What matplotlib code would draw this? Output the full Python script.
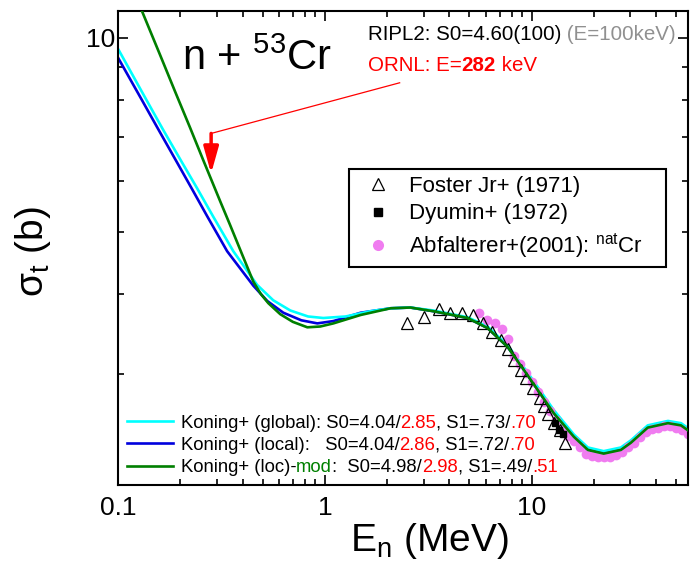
import numpy as np
import matplotlib
matplotlib.use("Agg")
import matplotlib.pyplot as plt
from matplotlib.lines import Line2D
from matplotlib.ticker import LogLocator, NullFormatter, FuncFormatter

plt.rcParams['font.family'] = ['Liberation Sans', 'DejaVu Sans']
plt.rcParams['mathtext.fontset'] = 'custom'
plt.rcParams['mathtext.rm'] = 'Liberation Sans'
plt.rcParams['mathtext.it'] = 'Liberation Sans:italic'
plt.rcParams['mathtext.bf'] = 'Liberation Sans:bold'

# Koning+ (global)
E_global = [0.100, 0.135, 0.165, 0.204, 0.241, 0.288, 0.361, 0.471, 0.563, 0.681, 0.83, 0.983, 1.26, 1.66,
            2.08, 2.59, 3.35, 4.90, 6.12, 7.65, 9.56, 12.8, 16.0, 18.7, 22.3, 27.0, 30.2, 36.4, 45.6, 52.7, 57.6]
sig_global = [9.61, 8.08, 7.20, 6.40, 5.84, 5.28, 4.66, 4.13, 3.91, 3.77, 3.69, 3.67, 3.69, 3.76,
              3.80, 3.81, 3.77, 3.68, 3.56, 3.33, 3.02, 2.64, 2.42, 2.31, 2.28, 2.31, 2.37, 2.50, 2.54, 2.52, 2.47]

# Koning+ (local)
E_local = [0.100, 0.128, 0.158, 0.193, 0.228, 0.270, 0.337, 0.451, 0.527, 0.630, 0.77, 0.920, 1.10, 1.49,
           2.08, 2.59, 3.35, 4.90, 6.12, 7.65, 9.56, 12.8, 16.0, 18.7, 22.3, 27.0, 30.2, 36.4, 45.6, 52.7, 57.6]
sig_local = [9.31, 8.09, 7.17, 6.40, 5.82, 5.28, 4.66, 4.12, 3.90, 3.74, 3.64, 3.60, 3.63, 3.74,
             3.80, 3.81, 3.76, 3.67, 3.54, 3.31, 2.99, 2.61, 2.40, 2.29, 2.26, 2.29, 2.35, 2.48, 2.52, 2.50, 2.45]

# Koning+ (loc)-mod
E_mod = [0.100, 0.131, 0.160, 0.189, 0.223, 0.258, 0.312, 0.349, 0.399, 0.451, 0.49, 0.533, 0.609, 0.70, 0.823,
         0.95, 1.10, 1.49, 2.08, 2.59, 3.35, 4.90, 6.12, 7.65, 9.56, 12.8, 16.0, 18.7, 22.3, 27.0, 30.2, 36.4,
         45.6, 52.7, 57.6]
sig_mod = [13.5, 10.97, 9.39, 8.24, 7.25, 6.46, 5.57, 5.11, 4.60, 4.18, 4.00, 3.87, 3.72, 3.62, 3.55,
           3.56, 3.60, 3.71, 3.80, 3.81, 3.76, 3.67, 3.54, 3.31, 2.99, 2.61, 2.40, 2.29, 2.26, 2.29, 2.35, 2.48,
           2.52, 2.50, 2.45]

# Foster Jr+ (1971)
E_foster = [2.51, 3.00, 3.55, 4.05, 4.63, 5.18, 5.79, 6.40, 7.08, 7.65, 8.18, 8.85, 9.35, 10.11,
            10.93, 11.43, 11.95, 12.78, 13.67, 14.45]
sig_foster = [3.60, 3.68, 3.79, 3.73, 3.73, 3.71, 3.61, 3.49, 3.39, 3.28, 3.16, 3.05, 2.96, 2.86,
              2.76, 2.68, 2.60, 2.52, 2.46, 2.35]

# Dyumin+ (1972)
E_dyumin = [12.9, 13.6, 14.1]
sig_dyumin = [2.52, 2.46, 2.42]

# Abfalterer+(2001), natCr
E_abf = [5.54, 6.05, 6.62, 7.16, 7.65, 8.18, 8.75, 9.35, 10.0, 10.69, 11.43, 12.22, 13.07, 13.97, 14.94,
         15.97, 17.08, 18.26, 19.53, 20.87, 22.32, 23.86, 25.51, 27.28, 29.17, 31.18, 33.34, 35.65,
         38.12, 40.75, 43.58, 46.59, 49.81, 53.26, 56.94]
sig_abf = [3.73, 3.65, 3.60, 3.53, 3.41, 3.20, 3.11, 3.01, 2.92, 2.82, 2.72, 2.63, 2.55, 2.47, 2.41,
           2.36, 2.31, 2.26, 2.24, 2.23, 2.23, 2.23, 2.25, 2.27, 2.31, 2.35, 2.40, 2.44,
           2.47, 2.48, 2.49, 2.49, 2.48, 2.46, 2.42]

# ORNL resonance energy marker
ORNL_E = 0.282
arrow_top, arrow_tip = 7.10, 6.15
leader_end = (2.30, 8.51)

fig = plt.figure(figsize=(6.92, 5.63), dpi=100)
ax = fig.add_axes([118/692, 1 - 485/563, 570/692, 474/563])
ax.set_xscale('log')
ax.set_yscale('log')
ax.set_xlim(0.1, 57)
ax.set_ylim(2.02, 11.0)

l_loc, = ax.plot(E_local, sig_local, color='#0000DD', lw=1.9)
l_glob, = ax.plot(E_global, sig_global, color='#00FFFF', lw=1.9)
ax.plot(E_abf, sig_abf, 'o', ms=7, color='#F07CF0', mec='none', zorder=2.5)
ax.plot(E_foster, sig_foster, '^', ms=8, mfc='none', mec='k', mew=0.9, zorder=2.6)
ax.plot(E_dyumin, sig_dyumin, 's', ms=4, color='k', zorder=2.7)
l_mod, = ax.plot(E_mod, sig_mod, color='#007F00', lw=1.9, zorder=2.8)

# axes styling
for sp in ax.spines.values():
    sp.set_linewidth(1.5)
ax.tick_params(which='both', direction='in', top=True, right=True, width=1.2)
ax.tick_params(which='major', length=7, labelsize=19)
ax.tick_params(which='minor', length=4)
ax.tick_params(axis='x', pad=8)
ax.tick_params(axis='y', pad=2)
ax.xaxis.set_major_locator(LogLocator(base=10))
ax.xaxis.set_minor_locator(LogLocator(base=10, subs=np.arange(2, 10)))
ax.xaxis.set_major_formatter(FuncFormatter(lambda v, _: f"{v:g}"))
ax.xaxis.set_minor_formatter(NullFormatter())
ax.yaxis.set_major_locator(LogLocator(base=10))
ax.yaxis.set_minor_locator(LogLocator(base=10, subs=np.arange(2, 10)))
ax.yaxis.set_major_formatter(FuncFormatter(lambda v, _: f"{v:g}"))
ax.yaxis.set_minor_formatter(NullFormatter())

fig.text(429/692, 1 - 551/563, r'$\mathregular{E_n}$ (MeV)', fontsize=28, ha='center', va='baseline')
fig.text(33/692, 1 - 252/563, r'$\mathregular{\sigma_t}$ (b)', fontsize=28, ha='center', va='center',
         rotation=90)


def chain(first, pieces, zorder=6):
    """put coloured text pieces one after another on the same baseline"""
    prev = first
    for s, c, w in pieces:
        prev = ax.annotate(s, xy=(1, 0), xycoords=prev, va='bottom', ha='left',
                           color=c, fontsize=first.get_fontsize(), weight=w, zorder=zorder)
    return prev


# title and annotations
ax.text((182 - 118)/570, 1 - (70 - 11)/474, r'n + $^{\mathregular{53}}$Cr', transform=ax.transAxes,
        fontsize=30, va='baseline')
t1 = ax.text((368 - 118)/570, 1 - (40 - 11)/474, 'RIPL2: S0=4.60(100)', transform=ax.transAxes,
             fontsize=14.8, va='baseline', color='k')
chain(t1, [(' (E=100keV)', '#909090', 'normal')])
t2 = ax.text((368 - 118)/570, 1 - (71 - 11)/474, 'ORNL: E=', transform=ax.transAxes,
             fontsize=14.8, va='baseline', color='red')
chain(t2, [('282', 'red', 'bold'), (' keV', 'red', 'normal')])

ax.plot([ORNL_E, leader_end[0]], [arrow_top, leader_end[1]], color='red', lw=0.9)
ax.annotate('', xy=(ORNL_E, arrow_tip), xytext=(ORNL_E, arrow_top),
            arrowprops=dict(arrowstyle='-|>,head_width=0.28,head_length=1.0', color='red', lw=2.5,
                            mutation_scale=16, shrinkA=0, shrinkB=0))

# data legend
h_data = [Line2D([], [], marker='^', ls='none', ms=9, mfc='none', mec='k', mew=0.9),
          Line2D([], [], marker='s', ls='none', ms=6, color='k'),
          Line2D([], [], marker='o', ls='none', ms=8, color='#F07CF0', mec='none')]
lab_data = ['Foster Jr+ (1971)', 'Dyumin+ (1972)', r'Abfalterer+(2001): $^{\mathregular{nat}}$Cr']
leg_top = 1 - (169 - 11)/474
leg1 = ax.legend(h_data, lab_data, loc='upper left', mode='expand',
                 bbox_to_anchor=((349 - 118)/570, leg_top - 0.1, (666 - 349)/570, 0.1),
                 borderaxespad=0, fontsize=16, fancybox=False, framealpha=1, edgecolor='k',
                 handlelength=2.0, handletextpad=0.4, borderpad=0.3, labelspacing=0.3)
leg1.get_frame().set_linewidth(1.5)
ax.add_artist(leg1)

# model legend
lab_models = ['Koning+ (global): S0=4.04/', 'Koning+ (local):   S0=4.04/', 'Koning+ (loc)-']
leg2 = ax.legend([l_glob, l_loc, l_mod], lab_models, loc='lower left',
                 bbox_to_anchor=((127 - 118)/570, (485 - 476)/474), borderaxespad=0, borderpad=0,
                 frameon=False, fontsize=13.3, handlelength=2.5, handletextpad=0.4, labelspacing=0.28)
tx = leg2.get_texts()
chain(tx[0], [('2.85', 'red', 'normal'), (', S1=.73/', 'k', 'normal'), ('.70', 'red', 'normal')])
chain(tx[1], [('2.86', 'red', 'normal'), (', S1=.72/', 'k', 'normal'), ('.70', 'red', 'normal')])
chain(tx[2], [('mod', '#008000', 'normal'), (':  S0=4.98/', 'k', 'normal'), ('2.98', 'red', 'normal'),
              (', S1=.49/', 'k', 'normal'), ('.51', 'red', 'normal')])

fig.savefig('out.png', dpi=100)
